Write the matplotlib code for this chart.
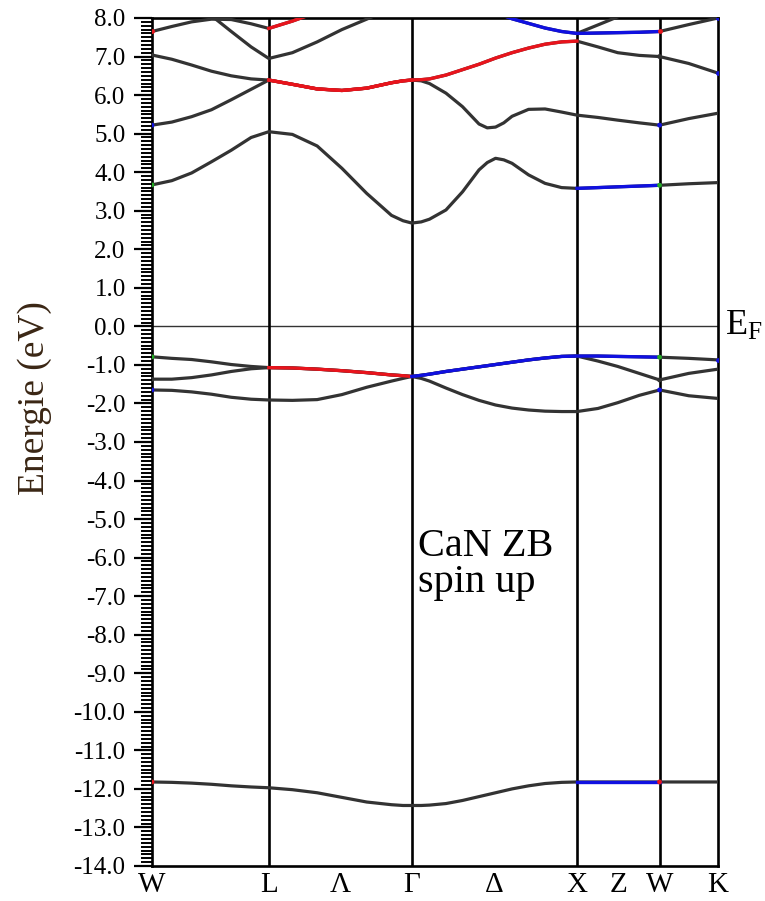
import numpy as np
import matplotlib
matplotlib.use("Agg")
import matplotlib.pyplot as plt
from matplotlib.ticker import MultipleLocator, FixedLocator, FormatStrFormatter

plt.rcParams['font.family'] = ['Liberation Serif', 'DejaVu Serif']
plt.rcParams['mathtext.fontset'] = 'custom'
plt.rcParams['mathtext.rm'] = 'Liberation Serif'
plt.rcParams['mathtext.it'] = 'Liberation Serif:italic'

# ---- k path (W L Gamma X W K) ----
HS_K = [0.0, 0.707, 1.573, 2.573, 3.073, 3.427]
XTICK_K = [0.0, 0.707, 1.14, 1.573, 2.073, 2.573, 2.823, 3.073, 3.427]
XTICK_LABELS = ["W", "L", "\u039b", "\u0393", "\u0394", "X", "Z", "W", "K"]
Y_RANGE = (-14, 8)

K_PATH = [0.0, 0.12, 0.24, 0.36, 0.48, 0.60, 0.707,
          0.85, 1.00, 1.15, 1.30, 1.45, 1.52, 1.573,
          1.63, 1.68, 1.78, 1.88, 1.98, 2.03, 2.08, 2.13, 2.18, 2.28, 2.38, 2.48, 2.573,
          2.70, 2.82, 2.95, 3.073,
          3.25, 3.427]
# index of each high-symmetry point inside K_PATH
I_W1, I_L, I_G, I_X, I_W2, I_K = 0, 6, 13, 26, 30, 32

nan = np.nan

# ---- band energies (eV) ----
band_n2s = [-11.82, -11.83, -11.85, -11.88, -11.92, -11.95, -11.97,
            -12.02, -12.10, -12.22, -12.34, -12.41, -12.43, -12.43,
            -12.43, -12.42, -12.38, -12.30, -12.20, -12.15, -12.10, -12.05, -12.00,
            -11.92, -11.86, -11.83, -11.82,
            -11.82, -11.82, -11.82, -11.82,
            -11.82, -11.82]
band_va = [-0.79, -0.83, -0.86, -0.92, -0.99, -1.04, -1.07,
           -1.08, -1.11, -1.15, -1.20, -1.26, -1.28, -1.30,
           -1.27, -1.24, -1.17, -1.11, -1.05, -1.02, -0.99, -0.96, -0.93,
           -0.87, -0.82, -0.78, -0.77,
           -0.77, -0.78, -0.79, -0.80,
           -0.83, -0.87]
band_vb = [-1.37, -1.37, -1.33, -1.26, -1.17, -1.10, -1.07,
           -1.08, -1.11, -1.15, -1.20, -1.26, -1.28, -1.30,
           -1.27, -1.24, -1.17, -1.11, -1.05, -1.02, -0.99, -0.96, -0.93,
           -0.87, -0.82, -0.78, -0.77,
           -0.90, -1.04, -1.22, -1.39,
           -1.22, -1.11]
band_vc = [-1.65, -1.66, -1.70, -1.76, -1.84, -1.89, -1.91,
           -1.92, -1.90, -1.77, -1.58, -1.42, -1.35, -1.30,
           -1.35, -1.42, -1.60, -1.77, -1.92, -1.98, -2.04, -2.08, -2.12,
           -2.17, -2.20, -2.21, -2.21,
           -2.13, -1.98, -1.79, -1.65,
           -1.80, -1.87]
band_cd = [3.67, 3.78, 3.98, 4.27, 4.57, 4.90, 5.05,
           4.98, 4.68, 4.10, 3.45, 2.88, 2.74, 2.68,
           2.71, 2.78, 3.02, 3.49, 4.06, 4.25, 4.36, 4.32, 4.23,
           3.93, 3.71, 3.60, 3.58,
           3.60, 3.62, 3.64, 3.66,
           3.70, 3.73]
band_ce = [5.22, 5.30, 5.44, 5.62, 5.88, 6.15, 6.39,
           6.28, 6.16, 6.12, 6.18, 6.32, 6.37, 6.39,
           6.37, 6.30, 6.05, 5.70, 5.25, 5.15, 5.17, 5.28, 5.45,
           5.63, 5.64, 5.56, 5.48,
           5.42, 5.35, 5.28, 5.22,
           5.39, 5.53]
band_cf = [7.04, 6.93, 6.78, 6.62, 6.50, 6.42, 6.39,
           6.28, 6.16, 6.12, 6.18, 6.32, 6.37, 6.39,
           6.40, 6.42, 6.52, 6.66, 6.80, 6.88, 6.96, 7.03, 7.10,
           7.22, 7.32, 7.38, 7.40,
           7.25, 7.10, 7.03, 7.00,
           6.82, 6.57]
band_cg = [7.65, 7.78, 7.90, 7.97, 7.96, 7.85, 7.73,
           7.92, 8.15, 8.40, nan, nan, nan, nan,
           nan, nan, nan, nan, nan, nan, nan, nan, nan,
           nan, nan, nan, nan,
           nan, nan, nan, nan,
           nan, nan]
band_ch = [nan, nan, 8.50, 8.06, 7.65, 7.25, 6.95,
           7.10, 7.38, 7.70, 7.97, 8.25, nan, nan,
           nan, nan, nan, nan, nan, nan, nan, nan, nan,
           nan, nan, nan, nan,
           nan, nan, nan, nan,
           nan, nan]
band_ci = [nan, nan, nan, nan, nan, nan, nan,
           nan, nan, nan, nan, nan, nan, nan,
           nan, nan, nan, nan, nan, nan, 8.15, 8.06, 7.98,
           7.86, 7.74, 7.65, 7.60,
           7.61, 7.62, 7.63, 7.65,
           7.83, 8.00]
band_cj = [nan, nan, nan, nan, nan, nan, nan,
           nan, nan, nan, nan, nan, nan, nan,
           nan, nan, nan, nan, nan, nan, nan, nan, nan,
           nan, nan, nan, 7.60,
           7.82, 8.03, 8.25, nan,
           nan, nan]

bands = [band_n2s, band_va, band_vb, band_vc, band_cd,
         band_ce, band_cf, band_cg, band_ch, band_ci, band_cj]

RED = "#e8141c"
BLUE = "#1010e0"
GREEN = "#22aa22"
DARK = "#333333"

# coloured pieces: (band, first index, last index, colour)
colored = [
    (band_n2s, I_X, I_W2, BLUE),
    (band_va, I_L, I_G, RED), (band_va, I_G, I_W2, BLUE),
    (band_cd, I_X, I_W2, BLUE),
    (band_ce, I_L, I_G, RED),
    (band_cf, I_L, I_X, RED),
    (band_cg, I_L, I_G, RED),
    (band_ci, I_G, I_W2, BLUE),
]

# small dots at the W and K points
w_marks = [(band_n2s, RED), (band_va, GREEN), (band_vb, DARK), (band_vc, BLUE),
           (band_cd, GREEN), (band_ce, BLUE), (band_cf, DARK)]
k_marks = [(band_ci, BLUE), (band_cf, BLUE), (band_va, BLUE)]

k = np.array(K_PATH)

fig = plt.figure(figsize=(7.65, 9.01), dpi=100)
ax = fig.add_axes([152 / 765, 35 / 901, 566 / 765, 848 / 901])

# axis set-up first
ax.set_xlim(HS_K[0], HS_K[-1])
ax.set_ylim(*Y_RANGE)
for s in ax.spines.values():
    s.set_linewidth(1.9)

ax.yaxis.set_major_locator(MultipleLocator(1.0))
ax.yaxis.set_minor_locator(FixedLocator(np.arange(Y_RANGE[0] * 10, Y_RANGE[1] * 10 + 1) / 10))
ax.yaxis.set_major_formatter(FormatStrFormatter("%.1f"))
ax.tick_params(axis="y", which="major", direction="out", length=13, width=1.6,
               labelsize=18, pad=6)
ax.tick_params(axis="y", which="minor", direction="out", length=8, width=1.4)

ax.set_xticks(XTICK_K)
ax.set_xticklabels(XTICK_LABELS)
ax.tick_params(axis="x", length=0, labelsize=21, pad=4)

# reference lines
ax.axhline(0, color="#333333", lw=1.0, zorder=1)
for kv in HS_K[1:-1]:
    ax.axvline(kv, color="black", lw=1.9, zorder=2)

# bands
for b in bands:
    ax.plot(k, np.array(b, dtype=float), color=DARK, lw=2.3, zorder=3)

for b, i0, i1, c in colored:
    e = np.array(b, dtype=float)
    ax.plot(k[i0:i1 + 1], e[i0:i1 + 1], color=c, lw=2.4, zorder=4)

# dots at the zone-boundary points
for i in (I_W1, I_W2):
    ax.scatter([k[i]] * len(w_marks), [b[i] for b, c in w_marks],
               c=[c for b, c in w_marks], s=12, lw=0, zorder=5)
ax.scatter([k[I_W1], k[I_W2]], [band_cg[I_W1], band_ci[I_W2]], c=RED, s=12, lw=0,
           zorder=5)
ax.scatter([k[I_K]] * len(k_marks), [b[I_K] for b, c in k_marks], c=BLUE, s=12,
           lw=0, zorder=5)

ax.set_xlim(HS_K[0], HS_K[-1])
ax.set_ylim(*Y_RANGE)

fig.text(35 / 765, 1 - 398 / 901, "Energie (eV)", fontsize=27, color="#3a2614",
         rotation=90, ha="center", va="center")

ax.text(1.61, -5.23, "CaN ZB\nspin up", fontsize=29, ha="left", va="top",
        linespacing=0.95, zorder=6)

ax.text(1.012, 0.0, r"$\mathrm{E_F}$", fontsize=26, ha="left", va="center",
        transform=ax.get_yaxis_transform(), clip_on=False)

fig.savefig("out.png", dpi=100)
